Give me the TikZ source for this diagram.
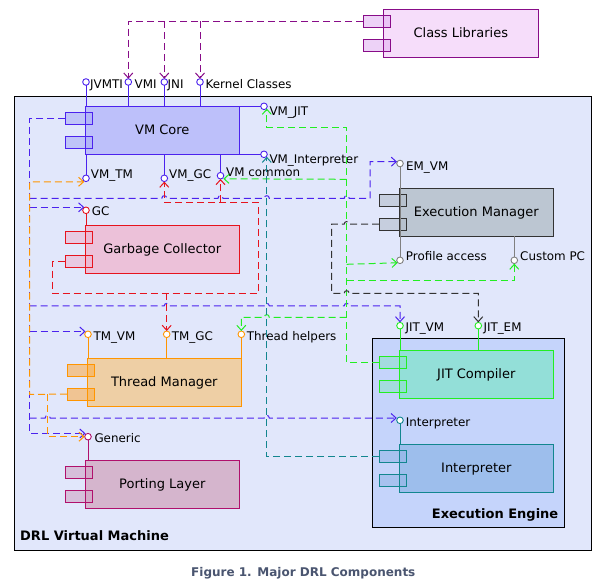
\documentclass[tikz,border=0pt]{standalone}
\usepackage{fontspec}
\setmainfont{DejaVu Sans}
\usetikzlibrary{arrows.meta,calc}
\definecolor{clStroke}{HTML}{880C88}
\definecolor{clFill}{HTML}{F6DDFA}
\definecolor{clTab}{HTML}{E2B4F2}
\definecolor{vmStroke}{HTML}{4B22EE}
\definecolor{vmFill}{HTML}{BDC0FA}
\definecolor{vmTab}{HTML}{A9AEF6}
\definecolor{drlFill}{HTML}{E1E7FB}
\definecolor{gcStroke}{HTML}{E6141E}
\definecolor{gcFill}{HTML}{ECC1D9}
\definecolor{gcTab}{HTML}{EDB5D0}
\definecolor{tmStroke}{HTML}{FF9500}
\definecolor{tmFill}{HTML}{EECFA5}
\definecolor{tmTab}{HTML}{FBAE4E}
\definecolor{plStroke}{HTML}{B0106C}
\definecolor{plFill}{HTML}{D5B5CD}
\definecolor{plTab}{HTML}{D0A5C5}
\definecolor{emStroke}{HTML}{333333}
\definecolor{emFill}{HTML}{BCC6D2}
\definecolor{emTab}{HTML}{B4BECB}
\definecolor{emPort}{HTML}{808080}
\definecolor{eeFill}{HTML}{C5D4FB}
\definecolor{jitStroke}{HTML}{22EE22}
\definecolor{jitFill}{HTML}{93DFD8}
\definecolor{jitTab}{HTML}{8EE0CC}
\definecolor{inStroke}{HTML}{12868F}
\definecolor{inFill}{HTML}{9DBEEC}
\definecolor{inTab}{HTML}{93B7E8}
\definecolor{capColor}{HTML}{4A5570}
\tikzset{
  box/.style={rectangle, minimum height=48pt, inner sep=0pt, outer sep=0pt, line width=1pt,
    font=\fontsize{13pt}{15pt}\selectfont, text height=9.5pt, text depth=1.5pt},
  tabbox/.style={rectangle, minimum width=27.3pt, minimum height=12pt, inner sep=0pt, outer sep=0pt,
    line width=1pt, fill opacity=0.6},
  container/.style={rectangle, draw=black, line width=1pt, inner sep=0pt, outer sep=0pt},
  port/.style={circle, fill=white, minimum size=6.6pt, inner sep=0pt, outer sep=0pt, line width=0.9pt},
  lbl/.style={anchor=base west, inner sep=0pt, font=\fontsize{11.9pt}{14pt}\selectfont},
  dep/.style={line width=1pt, dash pattern=on 7pt off 4pt, -{Straight Barb[length=5pt,width=9pt]}},
  portline/.style={line width=1pt},
}
\newcommand\mycomp[6]{%
  \node[box, draw=#5Stroke, fill=#5Fill, minimum width=#6] (#1) at (#2,#3) {#4};
  \node[tabbox, draw=#5Stroke, fill=#5Tab] (#1-a) at ($(#1.west)+(-6.65,-12)$) {};
  \node[tabbox, draw=#5Stroke, fill=#5Tab] (#1-b) at ($(#1.west)+(-6.65,12)$) {};
  \draw[#5Stroke, line width=1pt] (#1.north west) rectangle (#1.south east);
}
\begin{document}
\begin{tikzpicture}[x=1pt, y=-1pt]
\useasboundingbox (0,0) rectangle (603,588);
\fill[white] (0,0) rectangle (603,588);

% containers
\node[container, fill=drlFill, minimum width=577.4pt, minimum height=453.6pt] (drl) at (303,323.5) {};
\node[anchor=base west, inner sep=0pt, font=\fontsize{13pt}{15pt}\selectfont\bfseries] (drllbl) at (20,540) {DRL Virtual Machine};
\node[container, fill=eeFill, minimum width=192pt, minimum height=188.7pt] (ee) at (468.3,432.65) {};
\node[anchor=base east, inner sep=0pt, font=\fontsize{13pt}{15pt}\selectfont\bfseries] (eelbl) at (558.5,518) {Execution Engine};

% components
\mycomp{cl}{460.8}{33.3}{Class Libraries}{cl}{155pt}
\mycomp{vmcore}{162.3}{130.3}{VM Core}{vm}{154pt}
\mycomp{gc}{162.3}{249.3}{Garbage Collector}{gc}{154pt}
\mycomp{tm}{164.3}{382.2}{Thread Manager}{tm}{154pt}
\mycomp{pl}{162.3}{484.3}{Porting Layer}{pl}{154pt}
\mycomp{em}{476.3}{212.2}{Execution Manager}{em}{154pt}
\mycomp{jit}{476.3}{374.3}{JIT Compiler}{jit}{154pt}
\mycomp{interp}{476.3}{468.3}{Interpreter}{in}{154pt}

% ports of VM Core
\node[port, draw=vmStroke] (jvmti) at (86,82) {};
\node[port, draw=vmStroke] (vmi) at (128.3,82) {};
\node[port, draw=vmStroke] (jni) at (164.3,82) {};
\node[port, draw=vmStroke] (kernel) at (200,82) {};
\node[port, draw=vmStroke] (vmjit) at (264,106.3) {};
\node[port, draw=vmStroke] (vminterp) at (264,154.3) {};
\node[port, draw=vmStroke] (vmtm) at (86,178.3) {};
\node[port, draw=vmStroke] (vmgc) at (164.3,178.3) {};
\node[port, draw=vmStroke] (vmcommon) at (220.5,175.7) {};
\draw[vmStroke, portline] (jvmti) -- (jvmti |- vmcore.north);
\draw[vmStroke, portline] (vmi) -- (vmi |- vmcore.north);
\draw[vmStroke, portline] (jni) -- (jni |- vmcore.north);
\draw[vmStroke, portline] (kernel) -- (kernel |- vmcore.north);
\draw[vmStroke, portline] (vmcore.north east) -- (vmjit);
\draw[vmStroke, portline] (vmcore.south east) -- (vminterp);
\draw[vmStroke, portline] (vmtm) -- (vmtm |- vmcore.south);
\draw[vmStroke, portline] (vmgc) -- (vmgc |- vmcore.south);
\draw[vmStroke, portline] (vmcommon) -- (vmcommon |- vmcore.south);
\node[lbl] (l-jvmti) at (90,89) {JVMTI};
\node[lbl] (l-vmi) at (134.5,89) {VMI};
\node[lbl] (l-jni) at (167.5,89) {JNI};
\node[lbl] (l-kernel) at (205.5,89) {Kernel Classes};
\node[lbl] (l-vmjit) at (269.3,116) {VM\_JIT};
\node[lbl] (l-vminterp) at (269.3,164) {VM\_Interpreter};
\node[lbl] (l-vmtm) at (90.7,179) {VM\_TM};
\node[lbl] (l-vmgc) at (169,179) {VM\_GC};
\node[lbl] (l-vmcommon) at (226,176.7) {VM common};

% ports of Execution Manager
\node[port, draw=emPort] (emvm) at (400,163.5) {};
\node[port, draw=emPort] (profile) at (400,260.3) {};
\node[port, draw=emPort] (custompc) at (514.3,260.3) {};
\draw[emPort, portline] (emvm) -- (profile);
\draw[emPort, portline] (custompc) -- (custompc |- em.south);
\node[lbl] (l-emvm) at (406,170.7) {EM\_VM};
\node[lbl] (l-profile) at (405.7,261) {Profile access};
\node[lbl] (l-custompc) at (520,261) {Custom PC};

% port of GC
\node[port, draw=gcStroke] (gcp) at (86,210.3) {};
\draw[gcStroke, portline] (gcp) -- (gcp |- gc.north);
\node[lbl] (l-gc) at (91.7,215.7) {GC};

% ports of Thread Manager
\node[port, draw=tmStroke] (tmvm) at (88,334.3) {};
\node[port, draw=tmStroke] (tmgc) at (166.7,334.3) {};
\node[port, draw=tmStroke] (threadh) at (241.3,334.3) {};
\draw[tmStroke, portline] (tmvm) -- (tmvm |- tm.north);
\draw[tmStroke, portline] (tmgc) -- (tmgc |- tm.north);
\draw[tmStroke, portline] (threadh) -- (threadh |- tm.north);
\node[lbl] (l-tmvm) at (93.3,340.7) {TM\_VM};
\node[lbl] (l-tmgc) at (171.7,340.7) {TM\_GC};
\node[lbl] (l-threadh) at (246.7,340.7) {Thread helpers};

% ports of JIT
\node[port, draw=jitStroke] (jitvm) at (400,325.7) {};
\node[port, draw=jitStroke] (jitem) at (478.3,325.7) {};
\draw[jitStroke, portline] (jitvm) -- (jitvm |- jit.north);
\draw[jitStroke, portline] (jitem) -- (jitem |- jit.north);
\node[lbl] (l-jitvm) at (405.3,331.7) {JIT\_VM};
\node[lbl] (l-jitem) at (483.3,331.7) {JIT\_EM};

% port of Interpreter
\node[port, draw=inStroke] (iport) at (400,420.3) {};
\draw[inStroke, portline] (iport) -- (iport |- interp.north);
\node[lbl] (l-iport) at (405.7,426.7) {Interpreter};

% port of Porting Layer
\node[port, draw=plStroke] (generic) at (88,436.7) {};
\draw[plStroke, portline] (generic) -- (generic |- pl.north);
\node[lbl] (l-generic) at (94.3,442.7) {Generic};

% ---- dependencies ----
% Class Libraries
\draw[dep, clStroke] (cl-a.west) -- (128.3,21.3) -- (vmi.north);
\draw[dep, clStroke] (164.3,21.3) -- (jni.north);
\draw[dep, clStroke] (200,21.3) -- (kernel.north);

% VM Core
\draw[dep, vmStroke] (vmcore-a.west) -- (29.7,118.3) -- (29.7,433.5) -- (85.5,433.5);
\draw[dep, vmStroke] (29.7,198.3)
  -- (161.8,198.3) .. controls +(0,-3.5) and +(0,-3.5) .. (166.8,198.3)
  -- (218,198.3) .. controls +(0,-3.5) and +(0,-3.5) .. (223,198.3)
  -- (264.3,198.3) .. controls +(0,-3.5) and +(0,-3.5) .. (269.3,198.3)
  -- (344.2,198.3) .. controls +(0,-3.5) and +(0,-3.5) .. (349.2,198.3)
  -- (370,198.3) -- (370,161.7) -- (397,161.7);
\draw[dep, vmStroke] (29.7,207.3) -- (84.3,207.3);
\draw[dep, vmStroke] (29.7,306)
  -- (164.2,306) .. controls +(0,-3.5) and +(0,-3.5) .. (169.2,306)
  -- (264.3,306) .. controls +(0,-3.5) and +(0,-3.5) .. (269.3,306)
  -- (344.2,306) .. controls +(0,-3.5) and +(0,-3.5) .. (349.2,306)
  -- (400,306) -- (jitvm.north);
\draw[dep, vmStroke] (29.7,331.5) -- (85.5,331.5);
\draw[dep, vmStroke] (29.7,418)
  -- (45.2,418) .. controls +(0,-3.5) and +(0,-3.5) .. (50.2,418)
  -- (264.3,418) .. controls +(0,-3.5) and +(0,-3.5) .. (269.3,418)
  -- (396.8,418);

% Thread Manager
\draw[dep, tmStroke] (tm-b.west) -- (29.7,394.3) -- (29.7,181.8) -- (84.3,181.8);
\draw[dep, tmStroke] (47.7,394.3) -- (47.7,436.7) -- (generic.west);

% Garbage Collector
\draw[dep, gcStroke] (gc-b.west) -- (52.3,261.3) -- (52.3,293.3) -- (258.3,293.3) -- (258.3,202.3) -- (164.3,202.3) -- (vmgc.south);
\draw[dep, gcStroke] (220.5,202.3) -- (vmcommon.south);
\draw[dep, gcStroke] (166.7,293.3) -- (tmgc.north);

% JIT Compiler
\draw[dep, jitStroke] (jit-a.west) -- (346.7,362.3) -- (346.7,127.7) -- (266.8,127.7) -- (266.8,108.6);
\draw[dep, jitStroke] (346.7,179.3) -- (223.3,178.8);
\draw[dep, jitStroke] (346.7,264.3) -- (397.6,262.8);
\draw[dep, jitStroke] (346.7,280.7) -- (514.3,280.7) -- (custompc.south);
\draw[dep, jitStroke] (346.7,317.3)
  -- (269.3,317.3) .. controls +(0,-3.5) and +(0,-3.5) .. (264.3,317.3)
  -- (241.3,317.3) -- (threadh.north);

% Interpreter
\draw[dep, inStroke] (interp-a.west) -- (266.8,456.3) -- (266.8,156.7);

% Execution Manager
\draw[dep, emStroke] (em-b.west)
  -- (349.2,224.2) .. controls +(0,-3.5) and +(0,-3.5) .. (344.2,224.2)
  -- (331.7,224.2) -- (331.7,293.3)
  -- (344.2,293.3) .. controls +(0,-3.5) and +(0,-3.5) .. (349.2,293.3)
  -- (478.3,293.3) -- (jitem.north);

% caption
\node[anchor=base, inner sep=0pt, text=capColor, font=\fontsize{12pt}{14pt}\selectfont\bfseries] (caption) at (303.3,576.5) {Figure 1. Major DRL Components};
\end{tikzpicture}
\end{document}
